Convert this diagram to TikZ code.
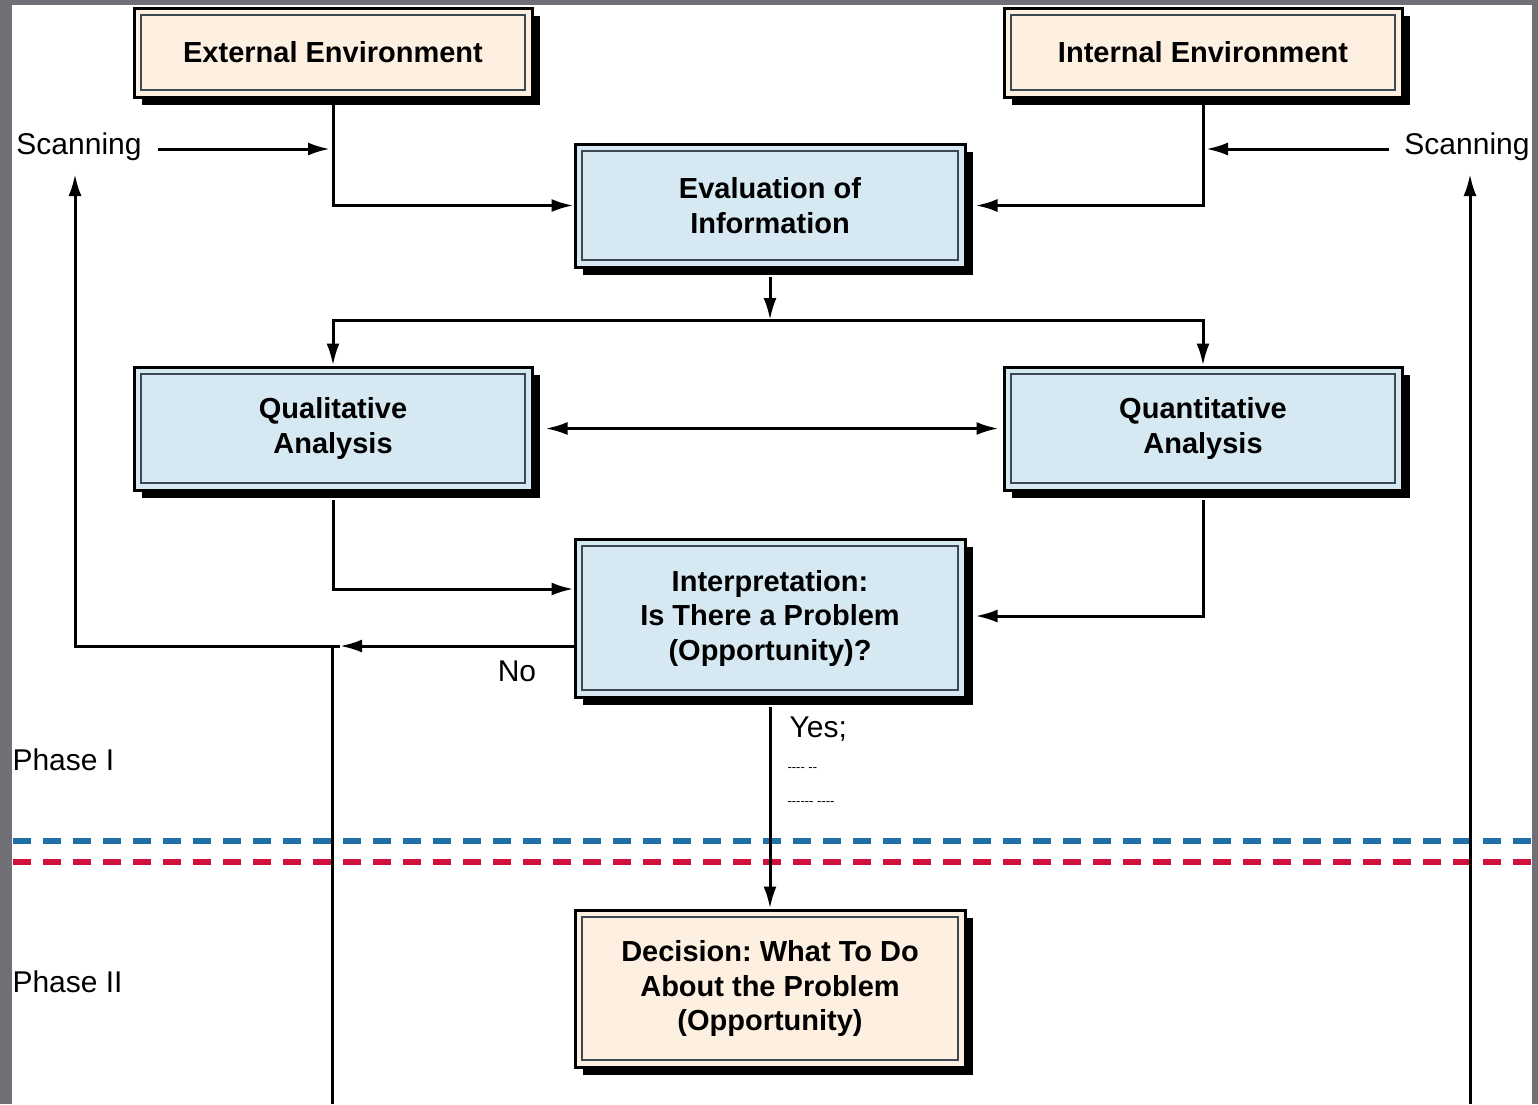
\documentclass[tikz,border=0pt]{standalone}
\usepackage{fontspec}
\setmainfont{Liberation Sans}
\usetikzlibrary{arrows.meta,shadows}
\frenchspacing

\definecolor{boxblue}{RGB}{214,233,242}
\definecolor{boxtan}{RGB}{253,240,225}
\definecolor{rimgray}{RGB}{60,72,82}
\definecolor{phaseblue}{RGB}{30,112,165}
\definecolor{phasered}{RGB}{210,16,60}
\definecolor{framegray}{RGB}{112,112,118}

\tikzset{
  box/.style={draw=black, line width=3pt, inner sep=0pt, align=center,
    font=\fontsize{29}{34.5}\selectfont\bfseries,
    drop shadow={shadow xshift=8pt, shadow yshift=-8pt, fill=black, opacity=1},
    path picture={\draw[rimgray, line width=2pt]
      ([shift={(7pt,-7pt)}]path picture bounding box.north west) rectangle
      ([shift={(-7pt,7pt)}]path picture bounding box.south east);}},
  bluebox/.style={box, fill=boxblue},
  tanbox/.style={box, fill=boxtan},
  conn/.style={line width=3pt, black},
  lbl/.style={font=\fontsize{30}{36}\selectfont},
  phaseline/.style={line width=6pt, dash pattern=on 18pt off 12pt},
}

\begin{document}
\begin{tikzpicture}[x=1pt,y=-1pt,>={Latex[length=22pt,width=13pt]}]
\useasboundingbox (0,0) rectangle (1538,1104);
%% frame
\fill[framegray] (0,0) rectangle (1538,1104);
\fill[white] (12,5) rectangle (1532,1104);
%% boxes
\node[tanbox, minimum width=398pt, minimum height=89pt] (extenv) at (333,52.5) {External Environment};
\node[tanbox, minimum width=398pt, minimum height=89pt] (intenv) at (1203,52.5) {Internal Environment};
\node[bluebox, minimum width=390pt, minimum height=123pt] (evalinfo) at (770,205.5) {Evaluation of\\Information};
\node[bluebox, minimum width=398pt, minimum height=123pt] (qual) at (333,428.5) {Qualitative\\Analysis};
\node[bluebox, minimum width=398pt, minimum height=123pt] (quant) at (1203,428.5) {Quantitative\\Analysis};
\node[bluebox, minimum width=390pt, minimum height=158pt] (interp) at (770,618) {Interpretation:\\Is There a Problem\\(Opportunity)?};
\node[tanbox, minimum width=390pt, minimum height=157pt] (decide) at (770,988.5) {Decision: What To Do\\About the Problem\\(Opportunity)};
%% labels
\node[lbl] (scanL) at (79,147) {Scanning};
\node[lbl] (scanR) at (1467,147) {Scanning};
\node[lbl, anchor=west] (phaseA) at (9,760) {Phase I};
\node[lbl, anchor=west] (phaseB) at (9,982) {Phase II};
\node[lbl] (nolbl) at (517,671) {No};
\node[lbl, anchor=west] (yeslbl) at (786,729) {Yes;};
\node[font=\fontsize{13}{13}\selectfont, anchor=west] (yesdashA) at (784,770) {-{}-{}-{}- -{}-};
\node[font=\fontsize{13}{13}\selectfont, anchor=west] (yesdashB) at (784,804) {-{}-{}-{}-{}-{}- -{}-{}-{}-};
%% phase separators
\draw[phaseline, phaseblue] (13,841) -- (1532,841);
\draw[phaseline, phasered] (13,862) -- (1532,862);
%% coordinates
\coordinate (extscan) at (330,149);
\coordinate (intscan) at (1206,149);
\coordinate (bus) at (770,320);
\coordinate (noturn) at (340,646);
\coordinate (scanLup) at (75,174);
\coordinate (scanRup) at (1470,174);
\coordinate (leftdrop) at (332,646);
\coordinate (leftfoot) at (332,1104);
\coordinate (rightfoot) at (1470,1104);
%% connectors
\draw[conn,->] ([xshift=13pt]scanL.east |- extscan) -- (extscan);
\draw[conn,->] ([xshift=-12pt]scanR.west |- intscan) -- (intscan);
\draw[conn,->] (extenv.south) |- (evalinfo.west);
\draw[conn,->] (intenv.south) |- ([xshift=9pt]evalinfo.east);
\draw[conn,->] ([yshift=-8pt]evalinfo.south) -- (bus);
\draw[conn,->] (bus) -| (qual.north);
\draw[conn,->] (bus) -| (quant.north);
\draw[conn,<->] ([xshift=12pt]qual.east) -- ([xshift=-4pt]quant.west);
\draw[conn,->] ([yshift=-8pt]qual.south) |- ([yshift=29pt]interp.west);
\draw[conn,->] ([yshift=-8pt]quant.south) |- ([xshift=9pt,yshift=2pt]interp.east);
\draw[conn,->] ([yshift=-28pt]interp.west) -- (noturn);
\draw[conn,->] (noturn) -| (scanLup);
\draw[conn] (leftdrop) -- (leftfoot);
\draw[conn,->] (rightfoot) -- (scanRup);
\draw[conn,->] ([yshift=-8pt]interp.south) -- (decide.north);
%
\end{tikzpicture}
\end{document}
